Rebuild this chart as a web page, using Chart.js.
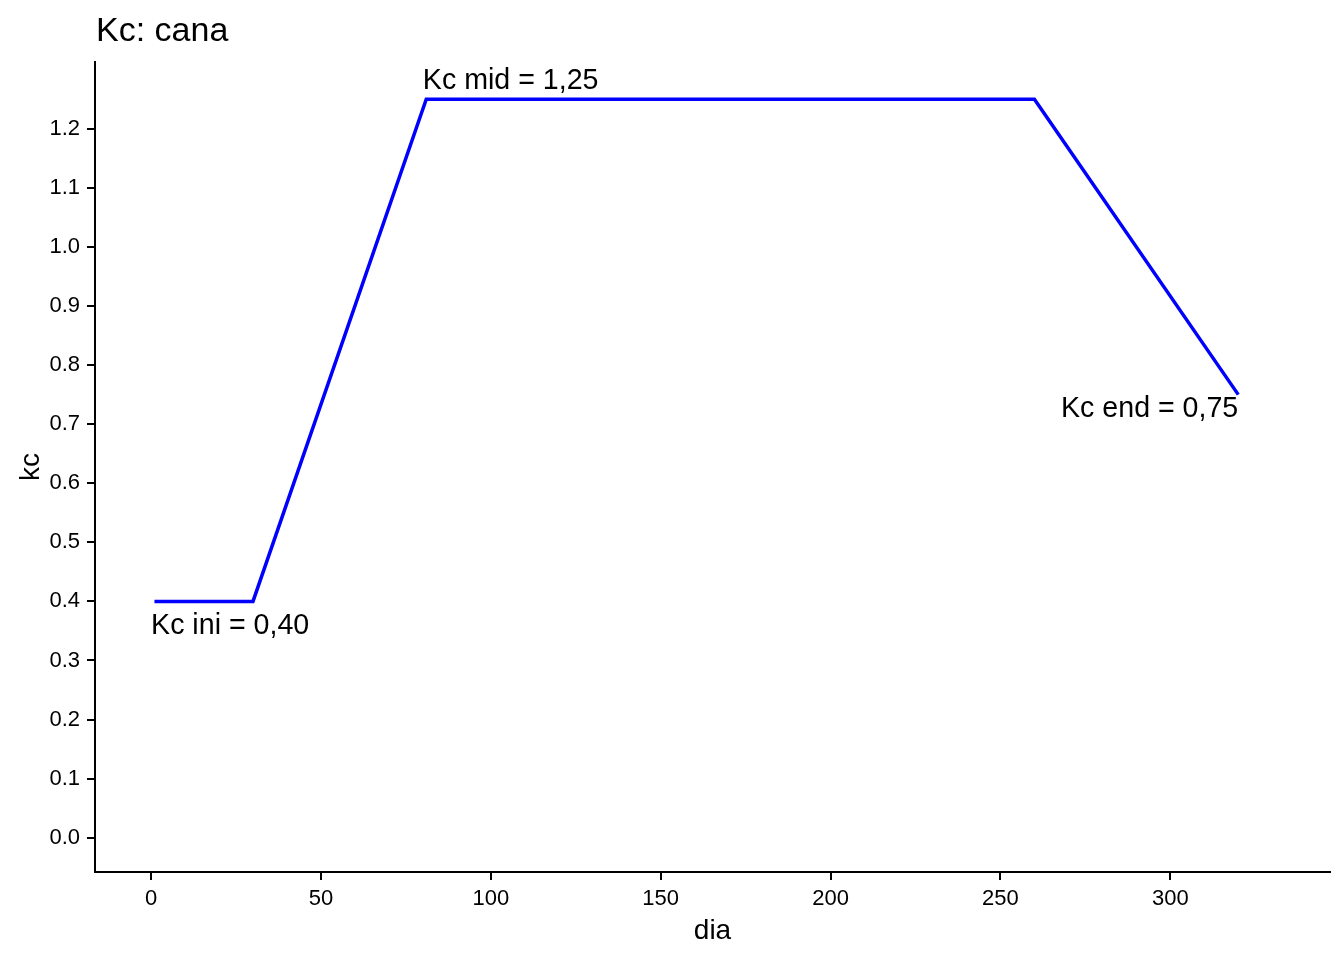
<!DOCTYPE HTML><html><head>
<meta name="viewport" content="width=device-width, initial-scale=1">
<style>
    html, body {
      margin: 0px;
      padding: 0px;
      background: #ffffff;
    }
    #wrap {
      width: 1344px;
      height: 960px;
    }
</style>
</head>
<body>
<div id="wrap"><canvas id="myChart" width="1344" height="960"></canvas></div>
<script src="https://cdn.jsdelivr.net/npm/chart.js@4.4.1/dist/chart.umd.min.js"></script>
<script>
// kc curve for sugarcane (cana), corner points
var dias = [1, 30, 81, 260, 320];
var kcValues = [0.40, 0.40, 1.25, 1.25, 0.75];

var xTicks = [0, 50, 100, 150, 200, 250, 300];
var yTicks = [0.0, 0.1, 0.2, 0.3, 0.4, 0.5, 0.6, 0.7, 0.8, 0.9, 1.0, 1.1, 1.2];

// stage labels, anchored on data points
var labelText = ['Kc ini = 0,40', 'Kc mid = 1,25', 'Kc end = 0,75'];
var labelX = [0, 80, 320];
var labelY = [0.40, 1.25, 0.75];

var FONT = "'Liberation Sans', Arial, sans-serif";

var points = dias.map(function(d, i) { return {x: d, y: kcValues[i]}; });

// title + geom_text style labels
var textPlugin = {
  id: 'textPlugin',
  afterDraw: function(chart) {
    var c = chart.ctx;
    var xs = chart.scales.x, ys = chart.scales.y;
    c.save();
    c.fillStyle = '#000';
    c.textBaseline = 'alphabetic';
    c.font = '34px ' + FONT;
    c.textAlign = 'left';
    c.fillText('Kc: cana', 96, 41);

    c.font = '28.6px ' + FONT;
    // [hjust, pixel shift of baseline]
    var place = [['left', 33], ['left', -10], ['right', 22]];
    for (var i = 0; i < labelText.length; i++) {
      c.textAlign = place[i][0];
      c.fillText(labelText[i], xs.getPixelForValue(labelX[i]), ys.getPixelForValue(labelY[i]) + place[i][1]);
    }
    c.restore();
  }
};

var ctx = document.getElementById('myChart');
var myChart = new Chart(ctx, {
    type: 'line',
    data: {
        datasets: [{
            label: 'kc',
            data: points,
            borderColor: '#0000FF',
            borderWidth: 3.5,
            pointRadius: 0,
            fill: false,
            tension: 0
        }]
    },
    options: {
        responsive: false,
        animation: false,
        layout: { padding: { top: 62, right: 14, left: 0, bottom: 0 } },
        plugins: {
            legend: { display: false },
            tooltip: { enabled: false }
        },
        scales: {
            x: {
                type: 'linear',
                min: -16.5,
                max: 347,
                afterBuildTicks: function(s) {
                    s.ticks = xTicks.map(function(v) { return {value: v}; });
                },
                afterFit: function(s) { s.height = 88; },
                grid: { display: true, drawOnChartArea: false, drawTicks: true, tickLength: 8, color: '#000', lineWidth: 2 },
                border: { display: true, color: '#000', width: 2 },
                ticks: { color: '#000', padding: 6, maxRotation: 0, font: { family: FONT, size: 22 } },
                title: { display: true, text: 'dia', color: '#000', padding: { top: 0, bottom: 12 }, font: { family: FONT, size: 28 } }
            },
            y: {
                type: 'linear',
                min: -0.058,
                max: 1.313,
                afterBuildTicks: function(s) {
                    s.ticks = yTicks.map(function(v) { return {value: v}; });
                },
                afterFit: function(s) { s.width = 95; },
                grid: { display: true, drawOnChartArea: false, drawTicks: true, tickLength: 8, color: '#000', lineWidth: 2 },
                border: { display: true, color: '#000', width: 2 },
                ticks: {
                    color: '#000', padding: 7, font: { family: FONT, size: 22 },
                    callback: function(v) { return Number(v).toFixed(1); }
                },
                title: { display: true, text: 'kc', color: '#000', padding: { top: 14, bottom: 0 }, font: { family: FONT, size: 28 } }
            }
        }
    },
    plugins: [textPlugin]
});
</script>
</body></html>
